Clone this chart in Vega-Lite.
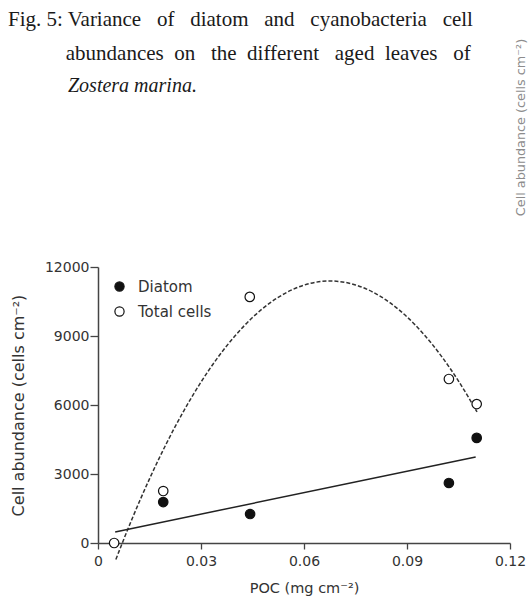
{
  "$schema": "https://vega.github.io/schema/vega-lite/v6.json",
  "autosize": "none",
  "width": 412,
  "height": 276,
  "padding": {"left": 98, "top": 267, "right": 20, "bottom": 59},
  "background": "white",
  "title": {
    "text": [
      "Fig. 5: Variance\u00a0\u00a0 of\u00a0\u00a0 diatom\u00a0\u00a0 and\u00a0\u00a0 cyanobacteria\u00a0\u00a0 cell",
      "\u200b\u00a0\u00a0\u00a0\u00a0\u00a0\u00a0\u00a0\u00a0\u00a0\u00a0\u00a0abundances\u00a0 on\u00a0\u00a0 the\u00a0 different\u00a0\u00a0 aged\u00a0 leaves\u00a0\u00a0 of"
    ],
    "subtitle": "\u200b\u00a0\u00a0\u00a0\u00a0\u00a0\u00a0\u00a0\u00a0\u00a0\u00a0\u00a0\u00a0Zostera marina.",
    "anchor": "start",
    "frame": "group",
    "dx": -90,
    "offset": -58,
    "font": "Liberation Serif",
    "fontSize": 21,
    "fontWeight": "normal",
    "color": "#1a1a1a",
    "lineHeight": 34,
    "subtitleFont": "Liberation Serif",
    "subtitleFontSize": 20,
    "subtitleFontStyle": "italic",
    "subtitleColor": "#1a1a1a",
    "subtitlePadding": 12
  },
  "datasets": {
    "pts": [
      {"poc": 0.019, "cells": 1780, "series": "Diatom"},
      {"poc": 0.0443, "cells": 1260, "series": "Diatom"},
      {"poc": 0.1022, "cells": 2610, "series": "Diatom"},
      {"poc": 0.1103, "cells": 4570, "series": "Diatom"},
      {"poc": 0.0047, "cells": 0, "series": "Total cells"},
      {"poc": 0.019, "cells": 2260, "series": "Total cells"},
      {"poc": 0.0442, "cells": 10700, "series": "Total cells"},
      {"poc": 0.1022, "cells": 7130, "series": "Total cells"},
      {"poc": 0.1103, "cells": 6040, "series": "Total cells"}
    ],
    "fit": [
      {"poc": 0.005, "cells": 480},
      {"poc": 0.110, "cells": 3740}
    ],
    "curve": [
      {"poc": 0.0052, "cells": -715},
      {"poc": 0.010, "cells": 1076},
      {"poc": 0.015, "cells": 2789},
      {"poc": 0.020, "cells": 4347},
      {"poc": 0.025, "cells": 5749},
      {"poc": 0.030, "cells": 6996},
      {"poc": 0.035, "cells": 8087},
      {"poc": 0.040, "cells": 9023},
      {"poc": 0.045, "cells": 9803},
      {"poc": 0.050, "cells": 10428},
      {"poc": 0.055, "cells": 10897},
      {"poc": 0.060, "cells": 11211},
      {"poc": 0.065, "cells": 11370},
      {"poc": 0.0676, "cells": 11391},
      {"poc": 0.070, "cells": 11373},
      {"poc": 0.075, "cells": 11221},
      {"poc": 0.080, "cells": 10913},
      {"poc": 0.085, "cells": 10450},
      {"poc": 0.090, "cells": 9831},
      {"poc": 0.095, "cells": 9057},
      {"poc": 0.100, "cells": 8127},
      {"poc": 0.105, "cells": 7042},
      {"poc": 0.1104, "cells": 5696}
    ]
  },
  "layer": [
    {
      "data": {"name": "curve"},
      "mark": {"type": "line", "color": "#333", "strokeWidth": 1.5, "strokeDash": [4, 2], "interpolate": "monotone"},
      "encoding": {
        "x": {"field": "poc", "type": "quantitative", "scale": {"domain": [0, 0.12], "nice": false, "zero": false},
          "axis": {"title": "POC (mg cm\u207b\u00b2)", "values": [0, 0.03, 0.06, 0.09, 0.12], "format": ".2~f"}},
        "y": {"field": "cells", "type": "quantitative", "scale": {"domain": [0, 12000], "nice": false, "zero": false}, "axis": null}
      }
    },
    {
      "data": {"name": "fit"},
      "mark": {"type": "line", "color": "#222", "strokeWidth": 1.5},
      "encoding": {
        "x": {"field": "poc", "type": "quantitative",
          "axis": {"title": "POC (mg cm\u207b\u00b2)", "values": [0, 0.03, 0.06, 0.09, 0.12], "format": ".2~f"}},
        "y": {"field": "cells", "type": "quantitative",
          "axis": {"orient": "right", "title": "Cell abundance (cells cm\u207b\u00b2)", "labels": false, "ticks": false, "domain": false, "grid": false,
            "titleAngle": 270, "titleX": 10, "titleY": -140, "titleAlign": "center", "titleBaseline": "middle",
            "titleFont": "DejaVu Sans", "titleFontSize": 12.8, "titleFontWeight": "normal", "titleColor": "#8c8c8c"}}
      }
    },
    {
      "data": {"name": "pts"},
      "mark": {"type": "point", "shape": "circle", "filled": true, "stroke": "#111", "strokeWidth": 1.2, "size": 90, "opacity": 1},
      "encoding": {
        "x": {"field": "poc", "type": "quantitative",
          "axis": {"title": "POC (mg cm\u207b\u00b2)", "values": [0, 0.03, 0.06, 0.09, 0.12], "format": ".2~f"}},
        "y": {"field": "cells", "type": "quantitative",
          "axis": {"orient": "left", "title": "Cell abundance (cells cm\u207b\u00b2)", "values": [0, 3000, 6000, 9000, 12000], "format": "d",
            "tickSize": 8, "labelPadding": 1, "titlePadding": 18, "titleFontSize": 16}},
        "fill": {"field": "series", "type": "nominal",
          "scale": {"domain": ["Diatom", "Total cells"], "range": ["#111111", "#ffffff"]},
          "legend": {"title": null, "orient": "none", "legendX": 14, "legendY": 12, "symbolType": "circle", "symbolSize": 85,
            "symbolStrokeColor": "#111", "symbolStrokeWidth": 1.2, "labelOffset": 11, "rowPadding": 9, "padding": 0,
            "labelFont": "DejaVu Sans", "labelFontSize": 15, "labelColor": "#333"}}
      }
    }
  ],
  "resolve": {"axis": {"y": "independent"}},
  "config": {
    "view": {"stroke": null},
    "axis": {
      "grid": false,
      "domainColor": "#444",
      "domainWidth": 1.5,
      "tickColor": "#444",
      "tickWidth": 1.3,
      "labelFont": "DejaVu Sans",
      "labelFontSize": 14,
      "labelColor": "#333",
      "titleFont": "DejaVu Sans",
      "titleFontWeight": "normal",
      "titleColor": "#333"
    },
    "axisX": {"tickSize": 6, "labelPadding": 5, "titlePadding": 13, "titleFontSize": 14.5, "labelFlush": false},
    "axisY": {"labelFontSize": 14}
  }
}
